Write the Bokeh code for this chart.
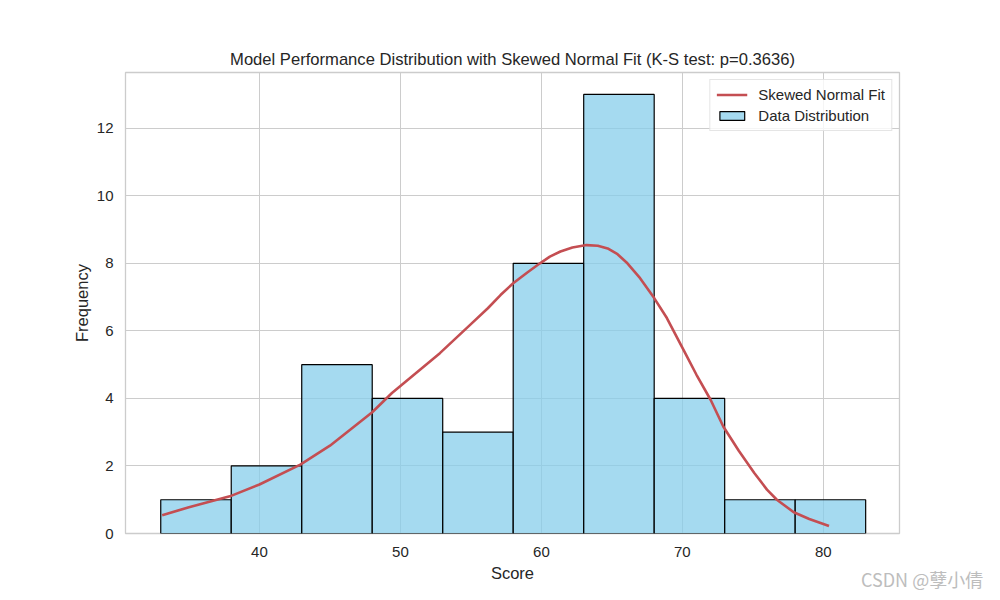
from bokeh.plotting import figure
from bokeh.models import (ColumnDataSource, Legend, LegendItem, FixedTicker,
                          Range1d, Div, Title)
from bokeh.layouts import column
from bokeh.embed import file_html
from bokeh.resources import INLINE

# ---- data ----
bin_edges = [33, 38, 43, 48, 53, 58, 63, 68, 73, 78, 83]
counts = [1, 2, 5, 4, 3, 8, 13, 4, 1, 1]

fit_x = [33.1, 35.0, 37.9, 40.0, 42.9, 45.0, 48.0, 49.4, 52.8, 55.0, 56.2,
         57.1, 58.0, 59.0, 59.9, 60.6, 61.35, 62.2, 63.2, 64.0, 64.7, 65.4,
         66.1, 67.0, 68.0, 68.9, 70.2, 71.0, 72.0, 72.9, 74.0, 75.1, 76.0,
         76.7, 77.9, 79.0, 80.4]
fit_y = [0.54, 0.78, 1.10, 1.45, 2.04, 2.60, 3.59, 4.16, 5.34, 6.20, 6.67,
         7.06, 7.41, 7.73, 8.00, 8.20, 8.35, 8.47, 8.54, 8.52, 8.44, 8.27,
         8.00, 7.56, 6.97, 6.38, 5.34, 4.70, 3.96, 3.17, 2.45, 1.79, 1.30,
         1.00, 0.63, 0.43, 0.22]

x_ticks = [40, 50, 60, 70, 80]
y_ticks = [0, 2, 4, 6, 8, 10, 12]

title_text = "Model Performance Distribution with Skewed Normal Fit (K-S test: p=0.3636)"
x_label = "Score"
y_label = "Frequency"
watermark = "CSDN @孽小倩"

FONT = "Liberation Sans"
TXT = "#262626"
GRID = "#cccccc"

p = figure(width=984, height=584, output_backend="svg", toolbar_location=None,
           x_range=Range1d(30.5, 85.4), y_range=Range1d(0, 13.65),
           min_border_left=125, min_border_right=85, min_border_top=72,
           min_border_bottom=50, margin=(0, 0, 0, 0))

p.title = Title(text=title_text, align="center", text_font=FONT,
                text_font_size="16.6px", text_font_style="normal",
                text_color=TXT, standoff=7)

bars = ColumnDataSource(dict(left=bin_edges[:-1], right=bin_edges[1:],
                             top=counts, bottom=[0] * len(counts)))
q = p.quad(left="left", right="right", top="top", bottom="bottom", source=bars,
           fill_color="#87ceeb", fill_alpha=0.75, line_color="black",
           line_width=1.2)

fit = ColumnDataSource(dict(x=fit_x, y=fit_y))
ln = p.line(x="x", y="y", source=fit, line_color="#c44e52", line_width=2.6,
            line_join="round")

# axes styling
for ax in (p.xaxis[0], p.yaxis[0]):
    ax.axis_line_color = None
    ax.major_tick_line_color = None
    ax.minor_tick_line_color = None
    ax.major_tick_out = 0
    ax.major_label_text_font = FONT
    ax.major_label_text_font_size = "15px"
    ax.major_label_text_color = TXT
    ax.axis_label_text_font = FONT
    ax.axis_label_text_font_size = "16.5px"
    ax.axis_label_text_font_style = "normal"
    ax.axis_label_text_color = TXT

p.xaxis.ticker = FixedTicker(ticks=x_ticks)
p.yaxis.ticker = FixedTicker(ticks=y_ticks)
p.xaxis.axis_label = x_label
p.yaxis.axis_label = y_label
p.xaxis.major_label_standoff = 13
p.yaxis.major_label_standoff = 12
p.xaxis.axis_label_standoff = 4
p.yaxis.axis_label_standoff = 3

p.xgrid.grid_line_color = GRID
p.ygrid.grid_line_color = GRID
p.xgrid.grid_line_width = 1
p.ygrid.grid_line_width = 1
p.outline_line_color = GRID
p.outline_line_width = 1.3
p.background_fill_color = "white"

legend = Legend(items=[LegendItem(label="Skewed Normal Fit", renderers=[ln]),
                       LegendItem(label="Data Distribution", renderers=[q])],
                location="top_right")
legend.label_text_font = FONT
legend.label_text_font_size = "15px"
legend.label_text_color = TXT
legend.border_line_color = GRID
legend.border_line_width = 1
legend.background_fill_alpha = 0.8
legend.glyph_width = 31
legend.glyph_height = 11
legend.label_standoff = 11
legend.spacing = 4
legend.padding = 6
legend.margin = 7
p.add_layout(legend)

# watermark, overlapping the bottom-right corner of the figure
wm = Div(text=watermark, margin=(-15, 0, 0, 861),
         styles={"font-family": "'Noto Sans CJK SC'", "font-size": "18px",
                 "color": "#bdbdbd", "white-space": "nowrap",
                 "line-height": "20px"})

layout = column(p, wm, spacing=0)

open("out.html", "w").write(file_html(layout, INLINE))
